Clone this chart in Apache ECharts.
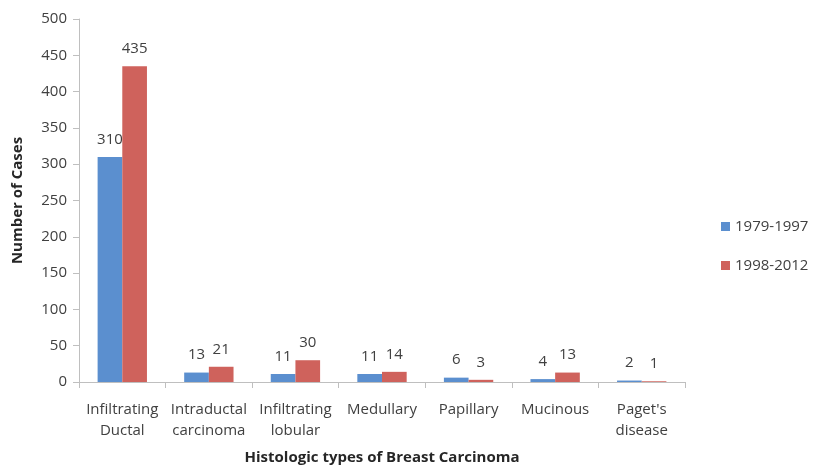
<!DOCTYPE html>
<html>
<head>
<meta charset="utf-8">
<script src="https://cdn.jsdelivr.net/npm/echarts@6/dist/echarts.min.js"></script>
<style>
  html, body { margin: 0; padding: 0; background: #fff; }
  #main { width: 813px; height: 466px; }
</style>
</head>
<body>
<div id="main"></div>
<script>
// 数据
var categories = ['Infiltrating\nDuctal', 'Intraductal\ncarcinoma', 'Infiltrating\nlobular', 'Medullary', 'Papillary', 'Mucinous', "Paget's\ndisease"]
var period1 = [310, 13, 11, 11, 6, 4, 2]
var period2 = [435, 21, 30, 14, 3, 13, 1]
var seriesNames = ['1979-1997', '1998-2012']

var myChart = echarts.init(document.getElementById('main'))

var font = '"Open Sans", Lato, sans-serif'

var option = {
  animation: false,
  textStyle: { fontFamily: font },
  grid: {
    left: 79,
    right: 128,
    top: 19,
    bottom: 84,
    outerBoundsMode: 'none'
  },
  legend: {
    orient: 'vertical',
    left: 716,
    top: 214,
    itemWidth: 9,
    itemHeight: 9,
    itemGap: 24,
    icon: 'rect',
    textStyle: { fontSize: 15, color: '#404040', fontFamily: font },
    data: seriesNames
  },
  xAxis: {
    type: 'category',
    data: categories,
    name: 'Histologic types of Breast Carcinoma',
    nameLocation: 'middle',
    nameGap: 68,
    nameTextStyle: { fontSize: 15, fontWeight: 'bold', color: '#262626', fontFamily: font },
    axisLine: { lineStyle: { color: '#bfbfbf' } },
    axisTick: { show: true, length: 6, alignWithLabel: false, lineStyle: { color: '#bfbfbf' } },
    axisLabel: { fontSize: 15, color: '#404040', margin: 17, lineHeight: 21, interval: 0, fontFamily: font }
  },
  yAxis: {
    type: 'value',
    min: 0,
    max: 500,
    interval: 50,
    name: 'Number of Cases',
    nameLocation: 'middle',
    nameGap: 54,
    nameTextStyle: { fontSize: 15, fontWeight: 'bold', color: '#262626', fontFamily: font },
    axisLine: { show: true, lineStyle: { color: '#bfbfbf' } },
    axisTick: { show: true, length: 6, lineStyle: { color: '#bfbfbf' } },
    splitLine: { show: false },
    axisLabel: { fontSize: 15, color: '#404040', margin: 12, fontFamily: font }
  },
  series: [{
      name: seriesNames[0],
      type: 'bar',
      data: period1,
      barGap: '0%',
      barCategoryGap: '43%',
      itemStyle: { color: '#5b8fcf' },
      label: { show: true, position: 'top', distance: 10, fontSize: 15, color: '#404040', fontFamily: font }
    },
    {
      name: seriesNames[1],
      type: 'bar',
      data: period2,
      barGap: '0%',
      barCategoryGap: '43%',
      itemStyle: { color: '#cf625c' },
      label: { show: true, position: 'top', distance: 10, fontSize: 15, color: '#404040', fontFamily: font }
    }
  ]
}

myChart.setOption(option)
</script>
</body>
</html>
